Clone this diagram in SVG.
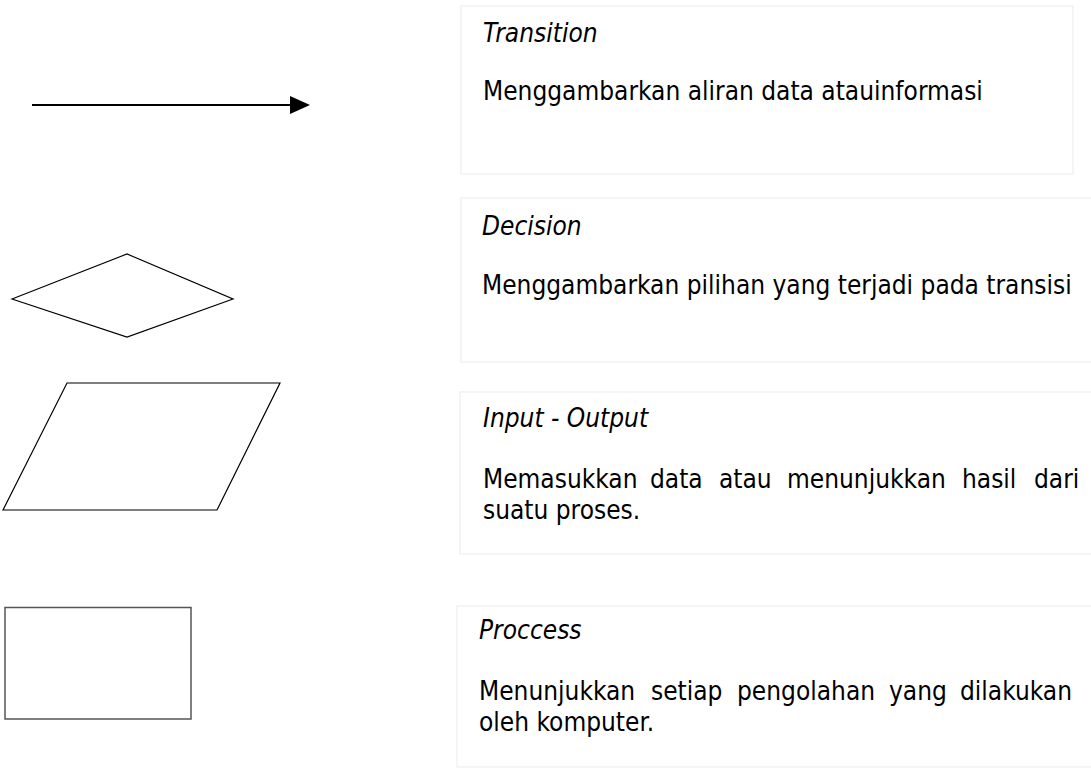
<svg xmlns="http://www.w3.org/2000/svg" width="1091" height="769" viewBox="0 0 1091 769">
  <style>
    .box { fill: #ffffff; stroke: #f2f2f2; stroke-width: 1.5; }
    .shape { fill: #ffffff; stroke: #000000; stroke-width: 1.2; }
    .title { font-family: "DejaVu Sans Condensed", "DejaVu Sans", sans-serif; font-style: italic; font-size: 26px; fill: #000000; }
    .body { font-family: "DejaVu Sans Condensed", "DejaVu Sans", sans-serif; font-size: 26px; fill: #000000; }
  </style>
  <defs>
    <marker id="arrowhead" viewBox="0 0 20 18" refX="0" refY="9" markerWidth="20" markerHeight="18" markerUnits="userSpaceOnUse" orient="auto">
      <path d="M0,0 L20,9 L0,18 Z" fill="#000000"/>
    </marker>
  </defs>
  <rect width="1091" height="769" fill="#ffffff"/>

  <g id="connectors">
    <line id="symbol-transition" x1="32" y1="105" x2="290" y2="105" stroke="#000000" stroke-width="2" marker-end="url(#arrowhead)"/>
  </g>

  <g id="symbol-decision">
    <polygon class="shape" points="12,299 127,254 233,299 127,337"/>
  </g>

  <g id="symbol-input-output">
    <polygon class="shape" points="67,383 280,383 217,510 3,510"/>
  </g>

  <g id="symbol-process">
    <rect x="5" y="607.5" width="186" height="111.5" fill="#ffffff" stroke="#555555" stroke-width="1.5"/>
  </g>

  <g id="desc-transition">
    <rect class="box" x="461" y="6" width="612" height="168"/>
    <text class="title" x="483" y="42">Transition</text>
    <text class="body" x="483" y="100">Menggambarkan aliran data atauinformasi</text>
  </g>

  <g id="desc-decision">
    <rect class="box" x="461" y="198" width="640" height="164"/>
    <text class="title" x="482" y="235">Decision</text>
    <text class="body" x="482" y="294">Menggambarkan pilihan yang terjadi pada transisi</text>
  </g>

  <g id="desc-input-output">
    <rect class="box" x="460" y="392" width="640" height="162"/>
    <text class="title" x="483" y="427">Input - Output</text>
    <text class="body" y="488"><tspan x="483">Memasukkan</tspan><tspan x="650">data</tspan><tspan x="719">atau</tspan><tspan x="787">menunjukkan</tspan><tspan x="962">hasil</tspan><tspan x="1034">dari</tspan></text>
    <text class="body" x="483" y="519">suatu proses.</text>
  </g>

  <g id="desc-process">
    <rect class="box" x="457" y="606" width="640" height="161"/>
    <text class="title" x="479" y="639">Proccess</text>
    <text class="body" y="700"><tspan x="479">Menunjukkan</tspan><tspan x="651">setiap</tspan><tspan x="737">pengolahan</tspan><tspan x="889">yang</tspan><tspan x="960">dilakukan</tspan></text>
    <text class="body" x="479" y="731">oleh komputer.</text>
  </g>
</svg>
